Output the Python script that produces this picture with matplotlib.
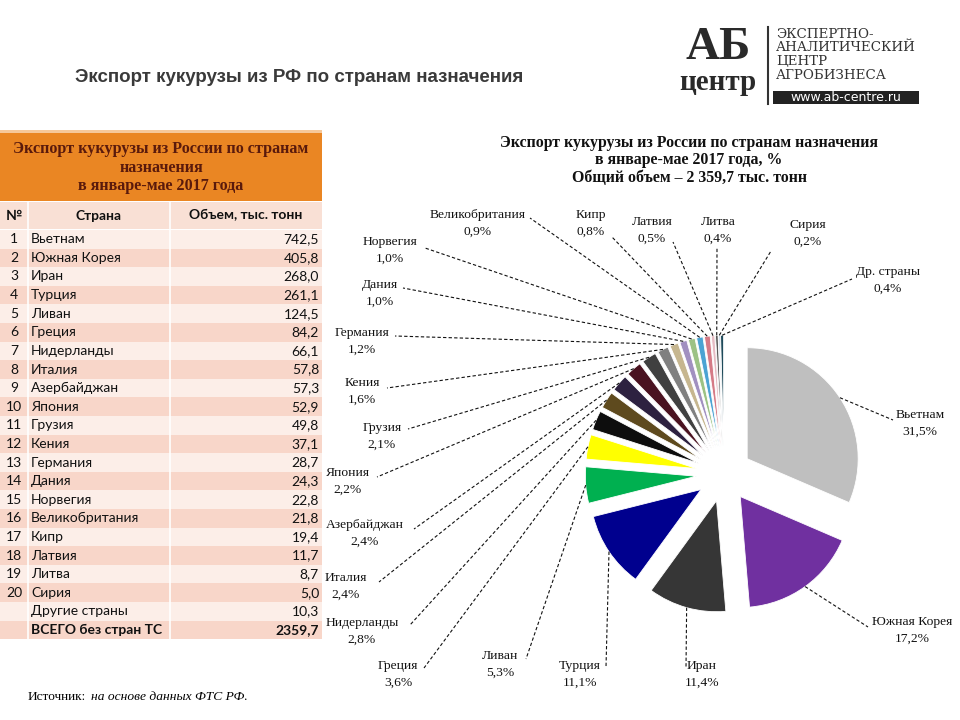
import matplotlib
matplotlib.use('Agg')
import matplotlib.pyplot as plt
from matplotlib.patches import Rectangle
import numpy as np

# ---------------- data ----------------
countries = ["Вьетнам", "Южная Корея", "Иран", "Турция", "Ливан", "Греция",
             "Нидерланды", "Италия", "Азербайджан", "Япония", "Грузия", "Кения",
             "Германия", "Дания", "Норвегия", "Великобритания", "Кипр", "Латвия",
             "Литва", "Сирия"]
volumes = [742.5, 405.8, 268.0, 261.1, 124.5, 84.2, 66.1, 57.8, 57.3, 52.9,
           49.8, 37.1, 28.7, 24.3, 22.8, 21.8, 19.4, 11.7, 8.7, 5.0]
other_label = "Другие страны"
other_volume = 10.3
total_label = "ВСЕГО без стран ТС"
total_volume = 2359.7
pie_labels = countries + ["Др. страны"]
slice_colors = ["#BFBFBF", "#7030A0", "#363636", "#00008E", "#00B050", "#FFFF00",
                "#0D0D0D", "#5E4A1E", "#2D2140", "#4A1220", "#404040", "#808080",
                "#C6B68F", "#A190C0", "#9CC285", "#4BA3D3", "#D57A86", "#E6BCC4",
                "#5A5A5A", "#B8CDE2", "#1E4A5A"]

table_title = "Экспорт кукурузы из России по странам\nназначения\nв январе-мае 2017 года"
col_headers = ["№", "Страна", "Объем, тыс. тонн"]
page_title = "Экспорт кукурузы из РФ по странам назначения"
chart_title = ["Экспорт кукурузы из России по странам назначения",
               "в январе-мае 2017 года, %",
               "Общий объем – 2 359,7 тыс. тонн"]

# ---------------- layout helpers ----------------
W, H = 960, 720
fig = plt.figure(figsize=(9.6, 7.2), dpi=100)
ax = fig.add_axes([0, 0, 1, 1])


def Y(y):
    return H - y


def fmt(v):
    return f"{v:.1f}".replace('.', ',')


SERIF = 'Liberation Serif'
TSANS = 'Lato'

# ---------------- page title ----------------
ax.text(75, Y(77), page_title, fontsize=13.5, fontweight='bold',
        family='Liberation Sans', color='#3a3a3a', ha='left', va='center')

# ---------------- logo ----------------
ax.text(718, Y(59), "АБ", fontsize=34, fontweight='bold', family=SERIF,
        color='#2a2a2a', ha='center', va='baseline')
ax.text(718, Y(90), "центр", fontsize=21, fontweight='bold', family=SERIF,
        color='#2a2a2a', ha='center', va='baseline')
ax.plot([768, 768], [Y(27), Y(104)], color='#333333', lw=1.5)
for i, line in enumerate(["ЭКСПЕРТНО-", "АНАЛИТИЧЕСКИЙ", "ЦЕНТР", "АГРОБИЗНЕСА"]):
    ax.text(776, Y(34 + 13.7 * i), line, fontsize=9.6, family='DejaVu Serif',
            color='#333333', ha='left', va='center')
ax.add_patch(Rectangle((773, Y(104)), 146, 13, color='#222222', lw=0))
ax.text(846, Y(97.5), "www.ab-centre.ru", fontsize=9, family='DejaVu Sans',
        color='white', ha='center', va='center')

# ---------------- table ----------------
TX0, TX1 = 0, 322
C1, C2 = 28, 170
ax.add_patch(Rectangle((TX0, Y(201)), TX1 - TX0, 68, color='#EA8623', lw=0))
ax.add_patch(Rectangle((TX0, Y(133)), TX1 - TX0, 3, color='#F6C89A', lw=0))
for i, ln in enumerate(table_title.split("\n")):
    ax.text(161, Y(149 + 18.5 * i), ln, fontsize=11.6, fontweight='bold',
            family=SERIF, color='#5A1A0C', ha='center', va='center')

hy0, hy1 = 202, 229
ax.add_patch(Rectangle((TX0, Y(hy1)), TX1 - TX0, hy1 - hy0, color='#F9E0D5', lw=0))
ax.text(14, Y(215.5), col_headers[0], fontsize=10, fontweight='bold', family=TSANS,
        ha='center', va='center', color='#111111')
ax.text(99, Y(215.5), col_headers[1], fontsize=10, fontweight='bold', family=TSANS,
        ha='center', va='center', color='#111111')
ax.text(246, Y(215.5), col_headers[2], fontsize=10, fontweight='bold', family=TSANS,
        ha='center', va='center', color='#111111')

rows = [(str(i + 1), c, fmt(v), False) for i, (c, v) in enumerate(zip(countries, volumes))]
rows.append(("", other_label, fmt(other_volume), False))
rows.append(("", total_label, fmt(total_volume), True))
RH = 18.6
ry0 = 230
for i, (num, name, val, bold) in enumerate(rows):
    top = ry0 + i * RH
    col = '#FCEEE8' if i % 2 == 0 else '#F8D6C9'
    ax.add_patch(Rectangle((TX0, Y(top + RH)), TX1 - TX0, RH, color=col, lw=0))
    yc = Y(top + RH / 2)
    w = 'bold' if bold else 'normal'
    ax.text(14, yc, num, fontsize=10, family=TSANS, ha='center', va='center',
            color='#111111', fontweight=w)
    ax.text(31, yc, name, fontsize=10, family=TSANS, ha='left', va='center',
            color='#111111', fontweight=w)
    ax.text(319, yc, val, fontsize=10, family=TSANS, ha='right', va='center',
            color='#111111', fontweight=w)
tbl_bottom = ry0 + len(rows) * RH
for xx in (C1, C2):
    ax.plot([xx, xx], [Y(hy0), Y(tbl_bottom)], color='white', lw=1.2)

# source
ax.text(28, Y(697), "Источник:", fontsize=9.5, family=SERIF, ha='left', va='center')
ax.text(91, Y(697), "на основе данных ФТС РФ.", fontsize=9.7, family=SERIF,
        style='italic', ha='left', va='center')

# ---------------- chart title ----------------
for i, ln in enumerate(chart_title):
    ax.text(689, Y(143 + 17.5 * i), ln, fontsize=11.4, fontweight='bold',
            family=SERIF, ha='center', va='center', color='#111111')

# ---------------- pie ----------------
pie_vals = volumes + [other_volume]
R = 111
cx, cy = 724, Y(474)
wedges, _ = ax.pie(pie_vals, colors=slice_colors, startangle=90, counterclock=False,
                   radius=R, center=(cx, cy), explode=[0.25 * R] * len(pie_vals),
                   wedgeprops=dict(edgecolor='white', linewidth=0.6), frame=True)

# label layout: text centre (x, y of first line), leader-line end (x, y)
label_layout = {
    "Вьетнам": (920, 415, 893, 420),
    "Южная Корея": (912, 622, 868, 627),
    "Иран": (702, 666, 686, 668),
    "Турция": (580, 666, 606, 667),
    "Ливан": (500, 656, 526, 659),
    "Греция": (398, 666, 424, 668),
    "Нидерланды": (362, 623, 410, 625),
    "Италия": (346, 578, 379, 582),
    "Азербайджан": (365, 525, 414, 529),
    "Япония": (348, 473, 377, 477),
    "Грузия": (382, 428, 408, 429),
    "Кения": (362, 383, 387, 388),
    "Германия": (362, 333, 395, 336),
    "Дания": (380, 285, 403, 288),
    "Норвегия": (390, 242, 425, 248),
    "Великобритания": (478, 215, 530, 218),
    "Кипр": (591, 215, 612, 237),
    "Латвия": (652, 222, 673, 242),
    "Литва": (718, 222, 717, 247),
    "Сирия": (808, 225, 771, 251),
    "Др. страны": (888, 272, 852, 279),
}

for wdg, lab, v in zip(wedges, pie_labels, pie_vals):
    th = np.deg2rad(0.5 * (wdg.theta1 + wdg.theta2))
    wx, wy = wdg.center
    px, py = wx + R * np.cos(th), wy + R * np.sin(th)
    tx, ty, lx, ly = label_layout[lab]
    ax.plot([px, lx], [py, Y(ly)], color='#111111', lw=0.8, ls=(0, (3, 2)))
    pct = fmt(v / total_volume * 100) + "%"
    ax.text(tx, Y(ty), lab, fontsize=9.7, family=SERIF, ha='center', va='center',
            color='#111111')
    ax.text(tx, Y(ty + 16.5), pct, fontsize=9.7, family=SERIF, ha='center',
            va='center', color='#111111')

ax.set_xlim(0, W)
ax.set_ylim(0, H)
ax.set_aspect('auto')
ax.axis('off')

fig.savefig('out.png', dpi=100, facecolor='white')
